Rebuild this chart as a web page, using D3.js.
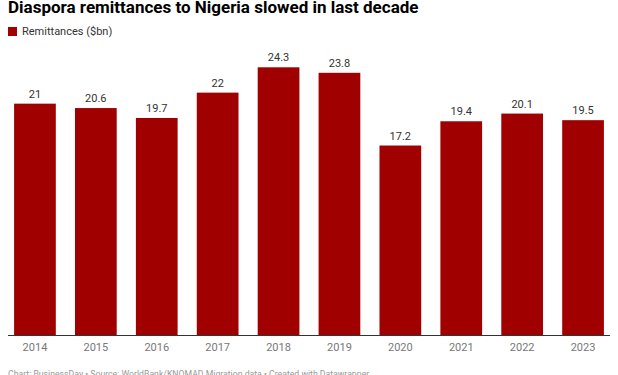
<!DOCTYPE html>
<html>
<head>
<meta charset="utf-8">
<script src="https://cdn.jsdelivr.net/npm/d3@7"></script>
<style>
  body{margin:0;background:#fff;font-family:Roboto,"Noto Sans",sans-serif;}
  svg{display:block;}
</style>
</head>
<body>
<svg id="chart"></svg>
<script>
var WIDTH=618, HEIGHT=375;
var BARCOLOR="#a00000";

// data
const years=["2014","2015","2016","2017","2018","2019","2020","2021","2022","2023"];
const remittances=[21,20.6,19.7,22,24.3,23.8,17.2,19.4,20.1,19.5];
const valueLabels=["21","20.6","19.7","22","24.3","23.8","17.2","19.4","20.1","19.5"];

var svg=d3.select("#chart").attr("width",WIDTH).attr("height",HEIGHT);

// title + legend
svg.append("text")
    .attr("x",8).attr("y",13)
    .attr("font-size",17).attr("font-weight",700).attr("fill","#000")
    .text("Diaspora remittances to Nigeria slowed in last decade");

svg.append("rect").attr("x",8).attr("y",27).attr("width",9).attr("height",9).attr("fill",BARCOLOR);
svg.append("text")
    .attr("x",22).attr("y",35)
    .attr("font-size",11).attr("fill","#333")
    .text("Remittances ($bn)");

var x=d3.scaleBand().domain(years).range([8,610]).paddingInner(0.315).paddingOuter(0.1);
var y=d3.scaleLinear().domain([0,24.3]).range([335,67.3]);

var bars=svg.append("g").attr("class","bars").selectAll("rect").data(remittances);
bars.enter().append("rect")
    .attr("x",function(d,i){return x(years[i])})
    .attr("y",function(d){return y(d)})
    .attr("width",x.bandwidth())
    .attr("height",function(d){return y(0)-y(d)})
    .attr("fill",BARCOLOR);

svg.append("g").attr("class","labels").selectAll("text").data(remittances).enter().append("text")
    .attr("x",function(d,i){return x(years[i])+x.bandwidth()/2})
    .attr("y",function(d){return y(d)-6})
    .attr("text-anchor","middle")
    .attr("font-size",11).attr("fill","#333")
    .text(function(d,i){return valueLabels[i]});

// x axis
var axis=svg.append("g").attr("transform","translate(0,335)")
    .call(d3.axisBottom(x).tickSize(0).tickPadding(8));
axis.select(".domain").attr("stroke","#333").attr("stroke-width",1).attr("d","M8,0.5H610");
axis.selectAll("text").attr("font-size",11).attr("fill","#777").attr("font-family","Roboto,sans-serif");

svg.append("text")
    .attr("x",8).attr("y",377)
    .attr("font-size",8.7).attr("fill","#999")
    .text("Chart: BusinessDay \u2022 Source: WorldBank/KNOMAD Migration data \u2022 Created with Datawrapper");
</script>
</body>
</html>
